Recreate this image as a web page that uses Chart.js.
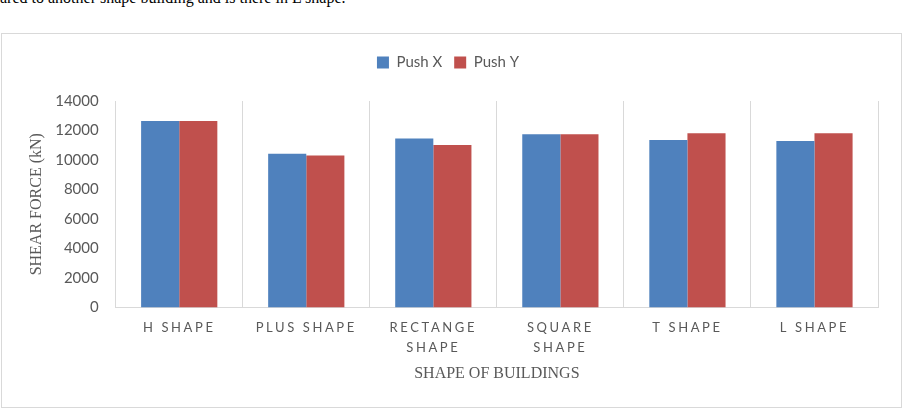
<!DOCTYPE html>
<html lang="en">
<head>
<meta charset="UTF-8">
<script src="https://cdn.jsdelivr.net/npm/chart.js"></script>
<title>Shear force by building shape</title>
<style>
  body { margin: 0; background: #fff; width: 905px; height: 414px; overflow: hidden; position: relative; }
  .intro { position: absolute; left: 0; top: -11px; font: 16px "Liberation Serif", serif; color: #000; white-space: nowrap; }
  .box { position: absolute; left: 1px; top: 33px; width: 899px; height: 373px; border: 1px solid #d9d9d9; }
</style>
</head>
<body>
<div class="intro">ared to another shape building and is there in L shape.</div>
<div class="box">
  <canvas id="grafico"></canvas>
</div>

<script>
  // dados
  const categorias = [["H SHAPE"], ["PLUS SHAPE"], ["RECTANGE", "SHAPE"], ["SQUARE", "SHAPE"], ["T SHAPE"], ["L SHAPE"]];
  const pushX = [12650, 10420, 11460, 11750, 11350, 11280];
  const pushY = [12650, 10310, 11010, 11750, 11820, 11820];
  const ticksY = [0, 2000, 4000, 6000, 8000, 10000, 12000, 14000];

  const cinza = '#595959';

  // espaçamento entre letras nos rótulos do eixo X + espaço extra abaixo da legenda
  const ajustes = {
    id: 'ajustes',
    beforeLayout(chart) {
      const lg = chart.legend;
      if (lg && !lg._ajustada) {
        const fit = lg.fit;
        lg.fit = function () { fit.call(this); this.height += 21; };
        lg._ajustada = true;
      }
    },
    beforeDraw(chart) {
      const xs = chart.scales.x;
      if (xs._comEspaco) return;
      const orig = xs.drawLabels;
      xs.drawLabels = function (area) {
        const c = this.ctx;
        c.save();
        c.letterSpacing = '2.6px';
        orig.call(this, area);
        c.restore();
      };
      xs._comEspaco = true;
    }
  };

  new Chart(document.getElementById('grafico'), {
    type: 'bar',
    data: {
      labels: categorias,
      datasets: [
        { label: 'Push X', data: pushX, backgroundColor: '#4F81BD' },
        { label: 'Push Y', data: pushY, backgroundColor: '#C0504D' }
      ]
    },
    options: {
      responsive: true,
      maintainAspectRatio: false,
      animation: false,
      categoryPercentage: 0.6,
      barPercentage: 1.0,
      layout: { padding: { left: 16, right: 23, top: 9, bottom: 24 } },
      plugins: {
        legend: {
          position: 'top',
          labels: {
            boxWidth: 12, boxHeight: 12, padding: 12,
            color: cinza,
            font: { family: 'Lato', size: 15 }
          }
        },
        tooltip: { enabled: false }
      },
      scales: {
        x: {
          grid: { display: true, color: '#d9d9d9', offset: true, drawTicks: false },
          border: { color: '#d9d9d9' },
          ticks: {
            color: cinza, padding: 10, maxRotation: 0, autoSkip: false,
            font: { family: 'Lato', size: 13, lineHeight: 1.55 }
          },
          title: {
            display: true, text: 'SHAPE OF BUILDINGS', color: cinza,
            font: { family: 'Liberation Serif', size: 16 },
            padding: { top: -4, bottom: 0 }
          }
        },
        y: {
          min: 0, max: 14000,
          afterBuildTicks(scale) { scale.ticks = ticksY.map(v => ({ value: v })); },
          grid: { display: false },
          border: { display: false },
          ticks: {
            color: cinza, padding: 9,
            font: { family: 'Lato', size: 15 },
            callback: v => String(v)
          },
          title: {
            display: true, text: 'SHEAR FORCE (kN)', color: cinza,
            font: { family: 'Liberation Serif', size: 16 },
            padding: { top: 9, bottom: 0 }
          }
        }
      }
    },
    plugins: [ajustes]
  });
</script>
</body>
</html>
